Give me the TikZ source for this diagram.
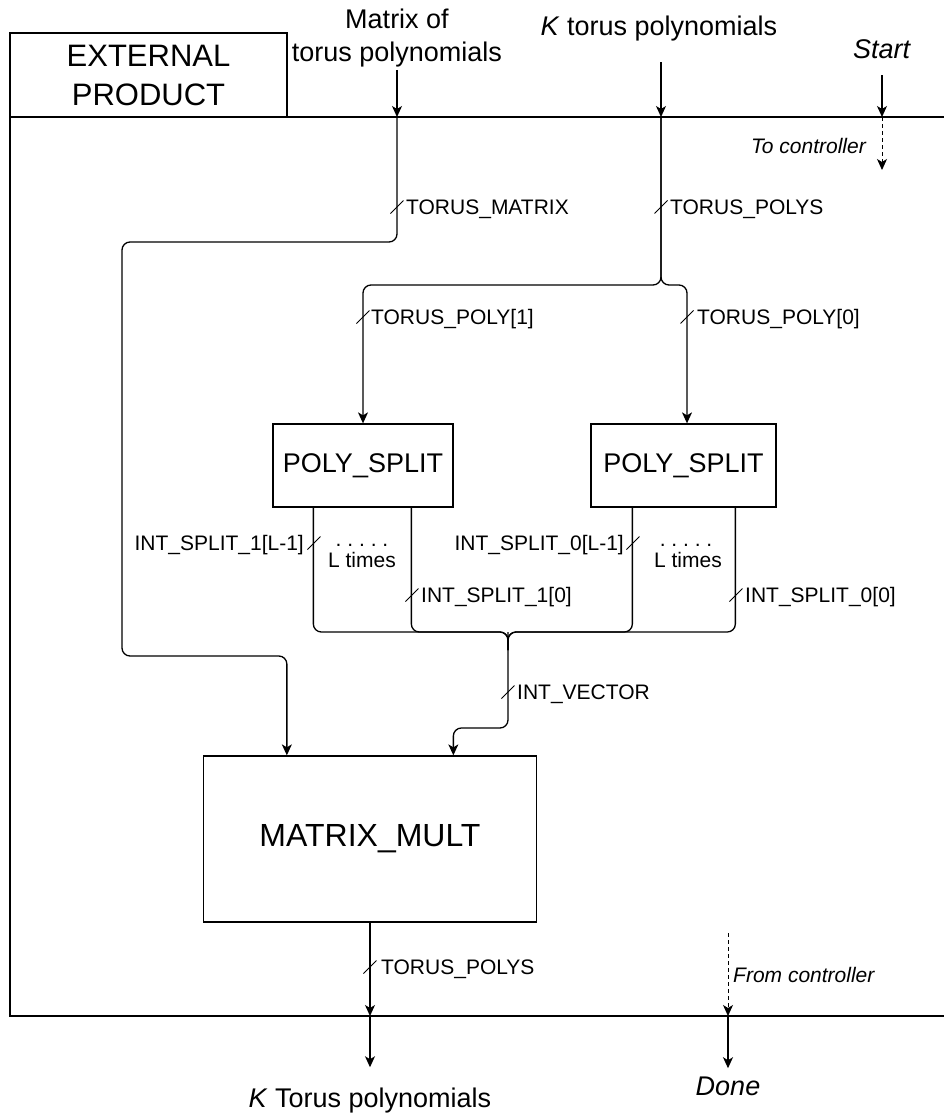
\documentclass[tikz,border=0pt]{standalone}
\usepackage{fontspec}
\setmainfont{Liberation Sans}
\usetikzlibrary{arrows.meta,calc}
\frenchspacing
\begin{document}
\begin{tikzpicture}[x=1pt,y=-1pt,
  lbl/.style={font=\fontsize{21}{25}\selectfont,inner sep=0pt},
  ilbl/.style={font=\fontsize{21}{25}\selectfont\itshape,inner sep=0pt},
  big/.style={font=\fontsize{27}{33}\selectfont,inner sep=0pt},
  blk/.style={draw,line width=1.3pt,inner sep=0pt},
  wire/.style={line width=1.3pt,rounded corners=8pt},
  arr/.style={-{Stealth[length=11pt,width=10pt,inset=3pt]}},
  dsh/.style={line width=1pt,dash pattern=on 4pt off 3pt},
  slashmark/.pic={\draw[line width=1pt] (-6.5,6.5) -- (6.5,-6.5);}
]
\useasboundingbox (0,0) rectangle (943,1117);

% outer frame
\draw[line width=1.3pt] (944,117) -- (10,117) -- (10,1016) -- (944,1016);
\node[blk,minimum width=277pt,minimum height=84pt,align=center,
      font=\fontsize{31}{39}\selectfont] (ext) at (148.5,75) {EXTERNAL\\PRODUCT};

% border points
\coordinate (tm) at (397,117);
\coordinate (tk) at (661,117);
\coordinate (ts) at (882,117);
\coordinate (bo) at (370,1016);
\coordinate (bd) at (728,1016);

% external labels
\node[big,align=center] (inmat) at (397,38.5) {Matrix of\\torus polynomials};
\node[big,anchor=base] (ink) at (659,35) {\textit{K} torus polynomials};
\node[big,anchor=base] (start) at (882,58) {\textit{Start}};
\node[big,anchor=base] (outk) at (370,1107) {\textit{K} Torus polynomials};
\node[big,anchor=base] (done) at (728,1095) {\textit{Done}};

% blocks
\node[blk,minimum width=180pt,minimum height=83pt,font=\fontsize{27}{33}\selectfont] (ps1) at (363,465.5) {POLY\_SPLIT};
\node[blk,minimum width=185pt,minimum height=83pt,font=\fontsize{27}{33}\selectfont] (ps0) at (683.5,465.5) {POLY\_SPLIT};
\node[blk,minimum width=333pt,minimum height=166pt,font=\fontsize{32}{38}\selectfont] (mm) at (370,839) {MATRIX\_MULT};

% inputs
\draw[wire,arr] ([yshift=-2pt]inmat.south) -- (tm);
\coordinate (kfrom) at (661,62);
\draw[wire,arr] (kfrom) -- (tk);
\draw[wire,arr] ([yshift=-17pt]start.base) -- (ts);
\coordinate (tc) at (882,170);
\draw[dsh,arr] (ts) -- (tc);
\node[ilbl,anchor=base east] (toc) at (866,153) {To controller};

% torus matrix wire
\draw[wire,arr] (tm) -- (397,242) -- (122,242) -- (122,656) -| ($(mm.north west)+(84,0)$);
\pic at (397,207) {slashmark};
\node[lbl,anchor=base west] (lmat) at (406,214.5) {TORUS\_MATRIX};

% torus polys wires
\coordinate (br) at (661,285);
\draw[wire,arr] (tk) -- (br) -| (ps1.north);
\draw[wire,arr] (tk) -- (br) -| ($(ps0.north)+(3.5,0)$);
\pic at (661,207) {slashmark};
\node[lbl,anchor=base west] (lpolys) at (670,214.5) {TORUS\_POLYS};
\pic at (363,317) {slashmark};
\node[lbl,anchor=base west] (lp1) at (371,324.5) {TORUS\_POLY[1]};
\pic at (687,317) {slashmark};
\node[lbl,anchor=base west] (lp0) at (697,324.5) {TORUS\_POLY[0]};

% split outputs
\coordinate (mg) at (508,632);
\draw[wire] ($(ps1.south west)+(41,0)$) |- (mg) -- ++(0,18);
\draw[wire] ($(ps1.south west)+(139,0)$) |- (mg) -- ++(0,18);
\draw[wire] ($(ps0.south west)+(42,0)$) |- (mg) -- ++(0,18);
\draw[wire] ($(ps0.south west)+(145,0)$) |- (mg) -- ++(0,18);
\coordinate (iv) at (508,728);
\draw[wire,arr] (mg) -- (iv) -| ($(mm.north west)+(250.5,0)$);

\pic at (314,543) {slashmark};
\node[lbl,anchor=base east] (l1a) at (304,550.5) {INT\_SPLIT\_1[L-1]};
\node[lbl,anchor=base] (d1) at (362,546) {. . . . .};
\node[lbl,anchor=base] (t1) at (362,567) {L times};
\pic at (412,595) {slashmark};
\node[lbl,anchor=base west] (l1b) at (421,602.5) {INT\_SPLIT\_1[0]};

\pic at (633,543) {slashmark};
\node[lbl,anchor=base east] (l0a) at (624,550.5) {INT\_SPLIT\_0[L-1]};
\node[lbl,anchor=base] (d0) at (686,546) {. . . . .};
\node[lbl,anchor=base] (t0) at (688,567) {L times};
\pic at (736,595) {slashmark};
\node[lbl,anchor=base west] (l0b) at (745,602.5) {INT\_SPLIT\_0[0]};

\pic at (508,692) {slashmark};
\node[lbl,anchor=base west] (lvec) at (517,699.5) {INT\_VECTOR};

% outputs
\draw[wire,arr] (mm.south) -- (bo);
\pic at (370,967) {slashmark};
\node[lbl,anchor=base west] (lout) at (381,974.5) {TORUS\_POLYS};
\draw[wire,arr] (bo) -- ([yshift=20pt]outk.north);

\coordinate (fc) at (728,933);
\draw[dsh,arr] (fc) -- (bd);
\node[ilbl,anchor=base west] (frc) at (733,982) {From controller};
\draw[wire,arr] (bd) -- ([yshift=8pt]done.north);
\end{tikzpicture}
\end{document}
